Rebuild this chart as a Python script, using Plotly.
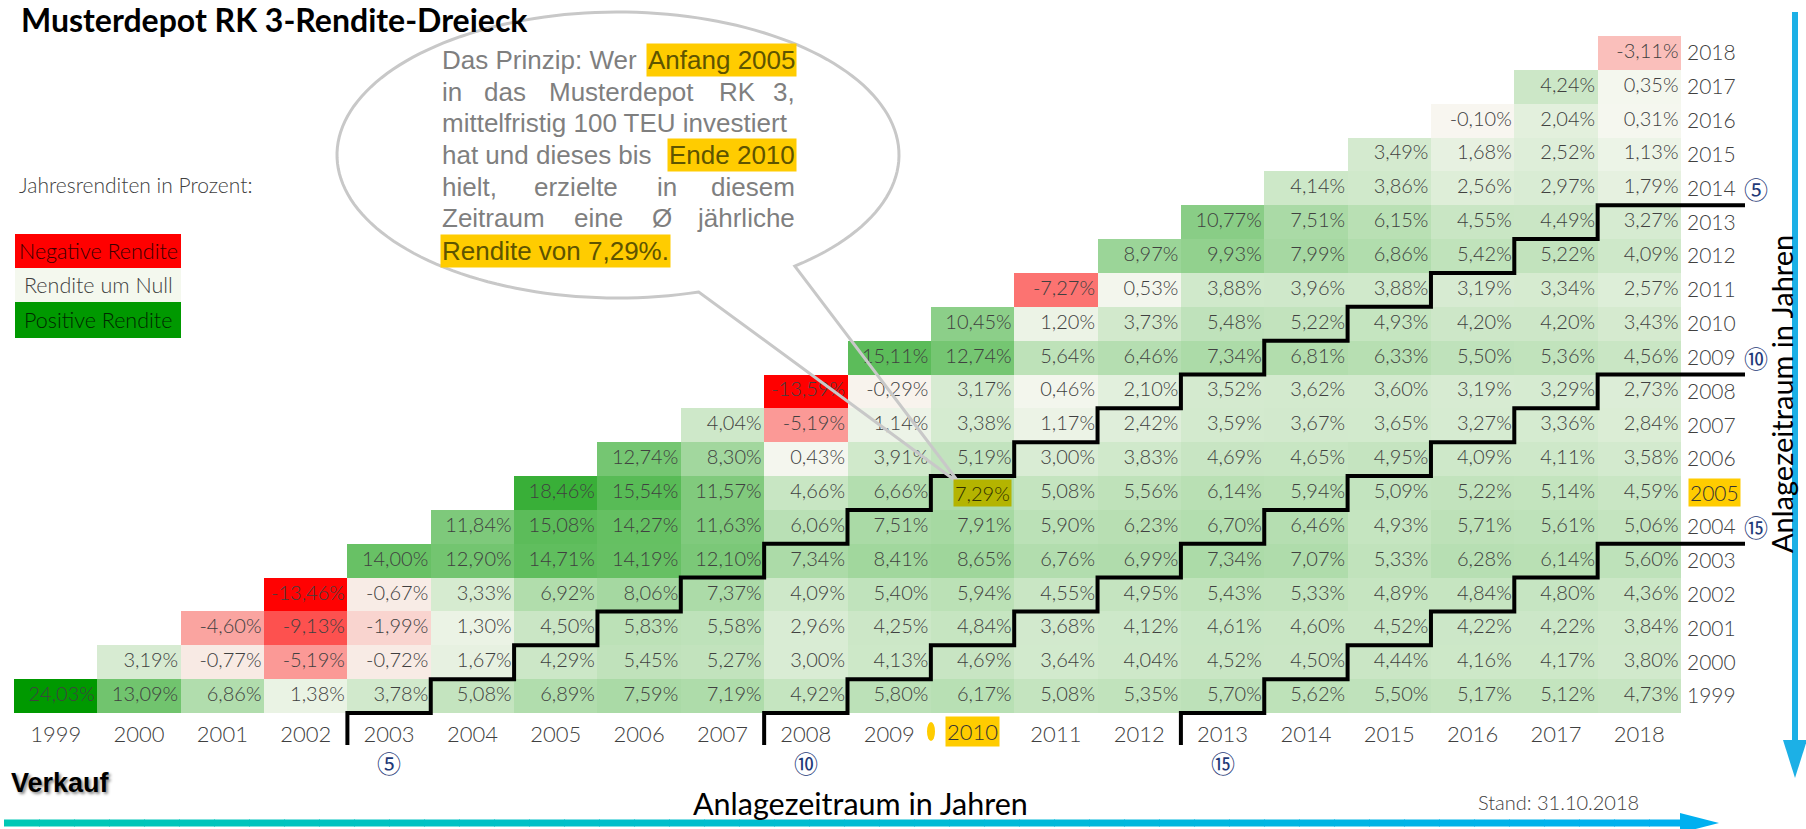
import math
import plotly.graph_objects as go

# ---------------- data ----------------
YEARS = list(range(1999, 2019))          # buy years (rows) and sell years (columns)
# average annual return in %, one list per buy year, starting at sell year == buy year
R1999 = [24.03, 13.09, 6.86, 1.38, 3.78, 5.08, 6.89, 7.59, 7.19, 4.92, 5.80, 6.17, 5.08, 5.35, 5.70, 5.62, 5.50, 5.17, 5.12, 4.73]
R2000 = [3.19, -0.77, -5.19, -0.72, 1.67, 4.29, 5.45, 5.27, 3.00, 4.13, 4.69, 3.64, 4.04, 4.52, 4.50, 4.44, 4.16, 4.17, 3.80]
R2001 = [-4.60, -9.13, -1.99, 1.30, 4.50, 5.83, 5.58, 2.96, 4.25, 4.84, 3.68, 4.12, 4.61, 4.60, 4.52, 4.22, 4.22, 3.84]
R2002 = [-13.46, -0.67, 3.33, 6.92, 8.06, 7.37, 4.09, 5.40, 5.94, 4.55, 4.95, 5.43, 5.33, 4.89, 4.84, 4.80, 4.36]
R2003 = [14.00, 12.90, 14.71, 14.19, 12.10, 7.34, 8.41, 8.65, 6.76, 6.99, 7.34, 7.07, 5.33, 6.28, 6.14, 5.60]
R2004 = [11.84, 15.08, 14.27, 11.63, 6.06, 7.51, 7.91, 5.90, 6.23, 6.70, 6.46, 4.93, 5.71, 5.61, 5.06]
R2005 = [18.46, 15.54, 11.57, 4.66, 6.66, 7.29, 5.08, 5.56, 6.14, 5.94, 5.09, 5.22, 5.14, 4.59]
R2006 = [12.74, 8.30, 0.43, 3.91, 5.19, 3.00, 3.83, 4.69, 4.65, 4.95, 4.09, 4.11, 3.58]
R2007 = [4.04, -5.19, 1.14, 3.38, 1.17, 2.42, 3.59, 3.67, 3.65, 3.27, 3.36, 2.84]
R2008 = [-13.59, -0.29, 3.17, 0.46, 2.10, 3.52, 3.62, 3.60, 3.19, 3.29, 2.73]
R2009 = [15.11, 12.74, 5.64, 6.46, 7.34, 6.81, 6.33, 5.50, 5.36, 4.56]
R2010 = [10.45, 1.20, 3.73, 5.48, 5.22, 4.93, 4.20, 4.20, 3.43]
R2011 = [-7.27, 0.53, 3.88, 3.96, 3.88, 3.19, 3.34, 2.57]
R2012 = [8.97, 9.93, 7.99, 6.86, 5.42, 5.22, 4.09]
R2013 = [10.77, 7.51, 6.15, 4.55, 4.49, 3.27]
R2014 = [4.14, 3.86, 2.56, 2.97, 1.79]
R2015 = [3.49, 1.68, 2.52, 1.13]
R2016 = [-0.10, 2.04, 0.31]
R2017 = [4.24, 0.35]
R2018 = [-3.11]
ROWS = [R1999, R2000, R2001, R2002, R2003, R2004, R2005, R2006, R2007, R2008,
        R2009, R2010, R2011, R2012, R2013, R2014, R2015, R2016, R2017, R2018]

HOLD_PERIODS = [5, 10, 15]
HOLD_MARKS = {5: "⑤", 10: "⑩", 15: "⑮"}
HIGHLIGHT_BUY, HIGHLIGHT_SELL = 2005, 2010

TITLE = "Musterdepot RK 3-Rendite-Dreieck"
AXIS_TITLE = "Anlagezeitraum in Jahren"

# ---------------- geometry / styles ----------------
W, H = 1806, 829
ML, MR, MT, MB = 14, 125, 36, 116
PW, PH = W - ML - MR, H - MT - MB
N = len(YEARS)
LATO = "Lato"
ARIAL = "Liberation Sans"
CIRC = "Noto Sans CJK JP"
TXT = "#404040"
YELLOW = "#FFCC00"


def px(x):   # pixel -> paper x
    return (x - ML) / PW


def py(y):   # pixel -> paper y
    return 1 - (y - MT) / PH


def dx(i):   # data column index -> pixel x
    return ML + (i + 0.5) * PW / N


def dy(j):   # data row index -> pixel y
    return MT + PH - (j + 0.5) * PH / N


fmt = lambda v: f"{v:.2f}".replace(".", ",") + "%"

# ---------------- heatmap matrix ----------------
z = [[None] * N for _ in range(N)]
for b, row in enumerate(ROWS):
    for k, v in enumerate(row):
        z[b][b + k] = v
allv = [v for r in ROWS for v in r]
zmin, zmax = min(allv), max(allv)
mid = (0 - zmin) / (zmax - zmin)

fig = go.Figure()
fig.add_trace(go.Heatmap(
    z=z, x=list(range(N)), y=list(range(N)),
    zmin=zmin, zmax=zmax,
    colorscale=[[0, "#FF0000"], [mid, "#F8F8F2"], [1, "#009900"]],
    showscale=False, hoverinfo="skip", xgap=0, ygap=0))

hb, hs = HIGHLIGHT_BUY - YEARS[0], HIGHLIGHT_SELL - YEARS[0]
tx, ty, tt = [], [], []
for b, row in enumerate(ROWS):
    for k, v in enumerate(row):
        s = b + k
        if (b, s) == (hb, hs):
            continue
        tx.append(s + 0.47)
        ty.append(b)
        tt.append(fmt(v))
fig.add_trace(go.Scatter(
    x=tx, y=ty, text=tt, mode="text", textposition="middle left",
    textfont=dict(family=LATO, size=20, color=TXT, weight=300),
    hoverinfo="skip", cliponaxis=False, showlegend=False))

shapes = []
annotations = []


def ann(text, x, y, size, color=TXT, family=LATO, xanchor="left", yanchor="middle",
        weight=None, bg=None, angle=0, shadow=None, xref="paper", yref="paper"):
    font = dict(family=family, size=size, color=color)
    if weight:
        font["weight"] = weight
    if shadow:
        font["shadow"] = shadow
    d = dict(text=text, x=x, y=y, xref=xref, yref=yref, xanchor=xanchor, yanchor=yanchor,
             showarrow=False, font=font, textangle=angle, borderpad=1)
    if bg:
        d["bgcolor"] = bg
    annotations.append(d)


# highlighted cell
ann(fmt(ROWS[hb][hs - hb]), hs + 0.47, hb, 20, color="#303000", weight=300,
    xanchor="right", bg="#B4B400", xref="x", yref="y")

# ---------------- staircases ----------------
for n in HOLD_PERIODS:
    s0 = n - 1
    pts = [(dx(s0 - 0.5), 745), (dx(s0 - 0.5), dy(-0.5))]
    k = 0
    while s0 + k + 0.5 <= N - 0.5:
        y0 = dy(k - 0.5)
        pts.append((dx(s0 + k + 0.5), y0))
        if s0 + k + 0.5 < N - 0.5:
            pts.append((dx(s0 + k + 0.5), dy(k + 0.5)))
        k += 1
    last_y = pts[-1][1]
    pts.append((1745, last_y))
    path = "M " + " L ".join(f"{px(a):.5f},{py(b_):.5f}" for a, b_ in pts)
    shapes.append(dict(type="path", path=path, xref="paper", yref="paper",
                       line=dict(color="black", width=4), layer="above"))
    # circled markers: below the first sell column and right of the last buy row
    ann(HOLD_MARKS[n], px(dx(s0)), py(762), 24, color="#1F3A78",
        family=CIRC, xanchor="center")
    ann(HOLD_MARKS[n], px(1756), py(dy(N - n)), 24, color="#1F3A78",
        family=CIRC, xanchor="center")

# highlighted axis labels
ann(str(HIGHLIGHT_SELL), hs, py(731), 22, color="#333333", weight=300, xanchor="center",
    bg=YELLOW, xref="x")
ann(str(HIGHLIGHT_BUY), px(1688), hb, 21, color="#333333", weight=300, xanchor="left",
    bg=YELLOW, yref="y")
shapes.append(dict(type="circle", xref="paper", yref="paper", x0=px(927), x1=px(935),
                   y0=py(722), y1=py(741), fillcolor=YELLOW, line=dict(width=0)))

# ---------------- speech bubble ----------------
cx, cy, rx, ry = 618, 155, 281, 143
tipx, tipy = 960, 484
a0, a1 = math.radians(73.3), math.radians(411)
bp = []
steps = 160
for i in range(steps + 1):
    a = a0 + (a1 - a0) * i / steps
    bp.append((cx + rx * math.cos(a), cy + ry * math.sin(a)))
bp.append((tipx, tipy))
path = "M " + " L ".join(f"{px(a):.5f},{py(b_):.5f}" for a, b_ in bp) + " Z"
shapes.append(dict(type="path", path=path, xref="paper", yref="paper",
                   line=dict(color="#C8C8C8", width=3), fillcolor="rgba(0,0,0,0)", layer="above"))

GRAY = "#7F7F7F"
HL_TXT = "#5E5400"
bubble = [
    # (text, x_px, anchor, y_px, highlighted)
    ("Das Prinzip: Wer", 440, "left", 60, False),
    ("Anfang 2005", 797, "right", 60, True),
    ("in", 440, "left", 92, False), ("das", 482, "left", 92, False),
    ("Musterdepot", 547, "left", 92, False), ("RK", 717, "left", 92, False),
    ("3,", 797, "right", 92, False),
    ("mittelfristig 100 TEU investiert", 440, "left", 123, False),
    ("hat und dieses bis", 440, "left", 155, False),
    ("Ende 2010", 797, "right", 155, True),
    ("hielt,", 440, "left", 187, False), ("erzielte", 532, "left", 187, False),
    ("in", 655, "left", 187, False), ("diesem", 797, "right", 187, False),
    ("Zeitraum", 440, "left", 218, False), ("eine", 572, "left", 218, False),
    ("Ø", 650, "left", 218, False), ("jährliche", 797, "right", 218, False),
    ("Rendite von 7,29%.", 440, "left", 251, True),
]
for t, x, anc, y, hl in bubble:
    ann(t, px(x), py(y), 26, color=HL_TXT if hl else GRAY, family=ARIAL, xanchor=anc,
        bg=YELLOW if hl else None)

# ---------------- title, legend, notes ----------------
ann(TITLE, px(19), py(20), 32, color="black", weight=700)
ann("Jahresrenditen in Prozent:", px(17), py(185), 21, weight=300)
legend = [("Negative Rendite", "#FF0000", "#3A0000", 234, 268),
          ("Rendite um Null", "#F4F8EE", TXT, 268, 302),
          ("Positive Rendite", "#009900", "#002800", 302, 338)]
for t, fc, tc, y0, y1 in legend:
    shapes.append(dict(type="rect", xref="paper", yref="paper", x0=px(15), x1=px(181),
                       y0=py(y1), y1=py(y0), fillcolor=fc, line=dict(width=0)))
    ann(t, px(98), py((y0 + y1) / 2), 21.5, color=tc, weight=300, xanchor="center")

ann("Verkauf", px(9), py(783), 27, color="black", family=ARIAL, weight=700,
    shadow="2px 2px 3px #888888")
ann(AXIS_TITLE, px(860), py(803), 30.5, color="black", xanchor="center")
ann("Stand: 31.10.2018", px(1558), py(802), 20, weight=300, xanchor="center")
ann(AXIS_TITLE, px(1781), py(394), 29, color="black", xanchor="center", angle=-90)

# ---------------- arrows ----------------
c0, c1 = (0, 200, 180), (0, 176, 240)
xa, xb, nseg = 4, 1684, 48
for i in range(nseg):
    f = (i + 0.5) / nseg
    col = "rgb(%d,%d,%d)" % tuple(round(c0[j] + (c1[j] - c0[j]) * f) for j in range(3))
    shapes.append(dict(type="line", xref="paper", yref="paper",
                       x0=px(xa + (xb - xa) * i / nseg), x1=px(xa + (xb - xa) * (i + 1) / nseg + 1),
                       y0=py(823), y1=py(823), line=dict(color=col, width=7)))
shapes.append(dict(type="path", xref="paper", yref="paper", fillcolor="#00B0F0",
                   line=dict(width=0),
                   path=f"M {px(1680)},{py(813)} L {px(1719)},{py(823)} L {px(1680)},{py(833)} Z"))
shapes.append(dict(type="line", xref="paper", yref="paper", x0=px(1795), x1=px(1795),
                   y0=py(12), y1=py(742), line=dict(color="#1CB0E6", width=6)))
shapes.append(dict(type="path", xref="paper", yref="paper", fillcolor="#1CB0E6",
                   line=dict(width=0),
                   path=f"M {px(1783)},{py(740)} L {px(1807)},{py(740)} L {px(1795)},{py(778)} Z"))

# ---------------- layout ----------------
fig.update_layout(
    width=W, height=H,
    margin=dict(l=ML, r=MR, t=MT, b=MB, pad=0),
    paper_bgcolor="white", plot_bgcolor="white",
    showlegend=False,
    shapes=shapes, annotations=annotations,
    xaxis=dict(range=[-0.5, N - 0.5], tickvals=list(range(N)),
               ticktext=["" if y == HIGHLIGHT_SELL else str(y) for y in YEARS],
               showgrid=False, zeroline=False, showline=False, ticks="",
               tickfont=dict(family=LATO, size=22, color=TXT, weight=300),
               ticklabelstandoff=6, fixedrange=True),
    yaxis=dict(range=[-0.5, N - 0.5], tickvals=list(range(N)), side="right",
               ticktext=["" if y == HIGHLIGHT_BUY else str(y) for y in YEARS],
               showgrid=False, zeroline=False, showline=False, ticks="",
               tickfont=dict(family=LATO, size=21, color=TXT, weight=300),
               ticklabelstandoff=5, fixedrange=True),
)

fig.write_html("out.html", config={"displayModeBar": False},
               post_script="document.body.style.margin='0';document.body.style.overflow='hidden';")
